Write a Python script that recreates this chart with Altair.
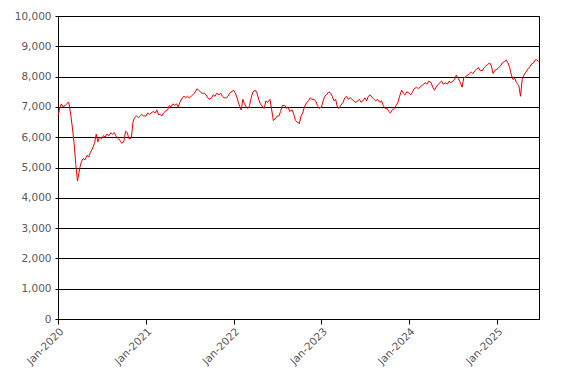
import altair as alt
import pandas as pd

# Weekly-ish readings (days 1, 8, 15, 22 of each month)
days = [1, 8, 15, 22]
v2020 = [6700, 6950, 7100, 7000,  7050, 7120, 7150, 6800,  6300, 5800, 5100, 4550,
         5000, 5200, 5300, 5250,  5400, 5350, 5500, 5600,  5800, 6100, 5850, 6000,
         5950, 6050, 6000, 6100,  6050, 6150, 6100, 6150,  6000, 5950, 5900, 5800,
         5850, 6200, 6150, 5950,  5970, 6500, 6650, 6700,  6650, 6700, 6750, 6700]
v2021 = [6700, 6800, 6750, 6800,  6850, 6800, 6900, 6750,  6750, 6700, 6800, 6850,
         6900, 7050, 7000, 7100,  7050, 7100, 7000, 7150,  7300, 7350, 7300, 7350,
         7300, 7350, 7400, 7450,  7600, 7550, 7500, 7450,  7450, 7400, 7300, 7250,
         7300, 7400, 7350, 7450,  7400, 7450, 7350, 7300,  7300, 7350, 7450, 7500]
v2022 = [7550, 7450, 7300, 7100,  6900, 7250, 7100, 7000,  6950, 7050, 7300, 7500,
         7550, 7450, 7250, 7100,  7000, 6950, 7200, 7150,  7250, 6900, 6550, 6600,
         6700, 6700, 6850, 7050,  7050, 6950, 7000, 6850,  6900, 6750, 6550, 6500,
         6450, 6700, 6800, 7000,  7150, 7200, 7300, 7250,  7250, 7200, 7050, 6950]
v2023 = [7000, 7200, 7350, 7400,  7500, 7450, 7350, 7200,  7250, 7000, 6950, 7050,
         7150, 7300, 7350, 7250,  7300, 7250, 7200, 7150,  7200, 7250, 7150, 7200,
         7300, 7200, 7350, 7400,  7300, 7250, 7200, 7250,  7150, 7200, 7050, 6950,
         6950, 6850, 6800, 6900,  6950, 7050, 7150, 7350,  7550, 7450, 7400, 7500]
v2024 = [7450, 7400, 7500, 7600,  7650, 7600, 7650, 7700,  7750, 7800, 7750, 7850,
         7800, 7650, 7550, 7650,  7750, 7800, 7850, 7750,  7800, 7750, 7850, 7800,
         7850, 7900, 8050, 7950,  7800, 7650, 7950, 8000,  8050, 8100, 8150, 8100,
         8200, 8250, 8300, 8200,  8200, 8300, 8350, 8400,  8450, 8350, 8100, 8200]
v2025 = [8250, 8300, 8350, 8450,  8500, 8550, 8450, 8300,  8050, 7900, 7950, 7800,
         7700, 7350, 7900, 8050,  8150, 8250, 8300, 8400,  8450, 8550, 8550, 8500]

series = {2020: v2020, 2021: v2021, 2022: v2022, 2023: v2023, 2024: v2024, 2025: v2025}
rows = []
for yr, vals in series.items():
    for i, v in enumerate(vals):
        m = i // 4 + 1
        d = days[i % 4]
        rows.append({"date": f"{yr}-{m:02d}-{d:02d}", "value": v})
df = pd.DataFrame(rows)

tick_dates = [alt.DateTime(year=y, month=1, date=1) for y in range(2020, 2026)]

chart = alt.Chart(df).mark_line(color="#e60000", strokeWidth=1).encode(
    x=alt.X("date:T",
            scale=alt.Scale(domain=[alt.DateTime(year=2020, month=1, date=1),
                                    alt.DateTime(year=2025, month=6, date=24)]),
            axis=alt.Axis(values=tick_dates, format="%b-%Y", labelAngle=-45,
                          title=None, grid=False, domainColor="black",
                          tickColor="black", tickSize=5, labelColor="#595959",
                          labelFontSize=10.5, labelFont="DejaVu Sans")),
    y=alt.Y("value:Q",
            scale=alt.Scale(domain=[0, 10000], nice=False),
            axis=alt.Axis(values=list(range(0, 10001, 1000)), format=",.0f",
                          title=None, gridColor="black", gridOpacity=1,
                          domainColor="black", tickColor="black", tickSize=3,
                          labelColor="#595959", labelFontSize=10.5,
                          labelFont="DejaVu Sans", labelPadding=4)),
).properties(
    width=481, height=303,
    autosize=alt.AutoSizeParams(type="none"),
    padding={"left": 50, "top": 8, "right": 20, "bottom": 60},
).configure_view(stroke="black", strokeWidth=1)

chart.save("out.html", embed_options={"renderer": "svg", "actions": False})
